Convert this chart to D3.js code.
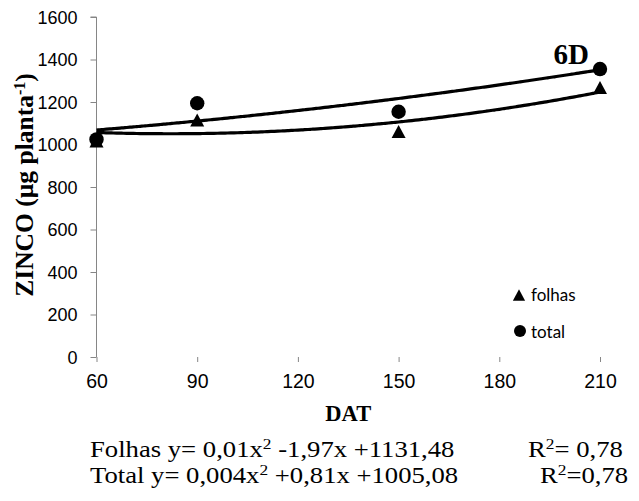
<!DOCTYPE html>
<html>
<head>
<meta charset="utf-8">
<script src="https://cdn.jsdelivr.net/npm/d3@7/dist/d3.min.js"></script>
<style>
  html, body { margin: 0; padding: 0; background: #fff; }
  svg { display: block; }
</style>
</head>
<body>
<svg id="chart" width="639" height="501"></svg>
<script>
// Days after transplanting (DAT)
const days = [60, 90, 150, 210];
// Zinc accumulation (µg planta-1)
const folhas = [1016, 1115, 1061, 1268];
const total  = [1024, 1194, 1154, 1355];

// Quadratic trend coefficients [a, b, c] for y = a·x² + b·x + c
const folhasFit = [0.012, -1.97, 1131.48];
const totalFit  = [0.004, 0.81, 1005.08];

const xTicks = [60, 90, 120, 150, 180, 210];
const yTicks = [0, 200, 400, 600, 800, 1000, 1200, 1400, 1600];

const svg = d3.select("#chart");
const axisColor = "#868686";
const serif = "'Liberation Serif', 'Times New Roman', serif";

const x = d3.scaleLinear().domain([60, 210]).range([96.5, 600]);
const y = d3.scaleLinear().domain([0, 1600]).range([357, 17]);

// Axes
const yAxis = d3.axisLeft(y).tickValues(yTicks).tickSize(6).tickPadding(13).tickFormat(d3.format("d"));
const xAxis = d3.axisBottom(x).tickValues(xTicks).tickSize(5).tickPadding(12).tickFormat(d3.format("d"));

const gy = svg.append("g").attr("transform", `translate(${x(60)},0)`).call(yAxis);
const gx = svg.append("g").attr("transform", `translate(0,${y(0)})`).call(xAxis);

[gx, gy].forEach(g => {
  g.select(".domain").attr("stroke", axisColor).attr("stroke-width", 1);
  g.selectAll(".tick line").attr("stroke", axisColor);
  g.selectAll(".tick text")
    .attr("fill", "#000")
    .style("font-family", "'Liberation Sans', Arial, sans-serif");
});
gy.selectAll(".tick text").style("font-size", "18px").attr("dy", "0.36em");
gx.selectAll(".tick text").style("font-size", "19.5px");
gy.select(".domain").attr("d", `M-6,${y(1600)}H0V${y(0)}`);
gx.select(".domain").attr("d", `M${x(60)},${y(0)}H${x(210)}V${y(0) + 5}`);

// Markers: triangle centred on its bounding box, and circles
const triBox = {
  draw(ctx, size) {
    const w = Math.sqrt(size);
    const h = w * 0.92;
    ctx.moveTo(0, -h / 2);
    ctx.lineTo(w / 2, h / 2);
    ctx.lineTo(-w / 2, h / 2);
    ctx.closePath();
  }
};
const triPath = d3.symbol().type(triBox).size(196)();
const circPath = d3.symbol().type(d3.symbolCircle).size(Math.PI * 7.2 * 7.2)();

svg.append("g").selectAll("path")
  .data(days.map((d, i) => [d, folhas[i]]))
  .join("path")
  .attr("d", triPath)
  .attr("transform", d => `translate(${x(d[0])},${y(d[1])})`)
  .attr("fill", "#000");

svg.append("g").selectAll("path")
  .data(days.map((d, i) => [d, total[i]]))
  .join("path")
  .attr("d", circPath)
  .attr("transform", d => `translate(${x(d[0])},${y(d[1])})`)
  .attr("fill", "#000");

// Trend curves
const quad = (k, t) => k[0] * t * t + k[1] * t + k[2];
const span = d3.range(60, 210.01, 1);
const line = d3.line().x(d => x(d[0])).y(d => y(d[1])).curve(d3.curveMonotoneX);

[folhasFit, totalFit].forEach(k => {
  svg.append("path")
    .datum(span.map(t => [t, quad(k, t)]))
    .attr("d", line)
    .attr("fill", "none")
    .attr("stroke", "#000")
    .attr("stroke-width", 3.2);
});

// Legend
const legend = svg.append("g").style("font-family", "Lato, 'Open Sans', sans-serif").style("font-size", "17px");
legend.append("path").attr("d", d3.symbol().type(triBox).size(150)()).attr("transform", "translate(519,295)");
legend.append("text").attr("x", 531).attr("y", 301).text("folhas");
legend.append("path").attr("d", d3.symbol().type(d3.symbolCircle).size(Math.PI * 36)()).attr("transform", "translate(520,331)");
legend.append("text").attr("x", 531).attr("y", 337.5).text("total");

// Panel label
svg.append("text")
  .attr("x", 589).attr("y", 64)
  .attr("text-anchor", "end")
  .style("font-family", serif)
  .style("font-weight", "bold")
  .style("font-size", "29px")
  .text("6D");

// Axis titles
svg.append("text")
  .attr("x", (x(60) + x(210)) / 2).attr("y", 421)
  .attr("text-anchor", "middle")
  .style("font-family", serif)
  .style("font-weight", "bold")
  .style("font-size", "22.5px")
  .text("DAT");

const yt = svg.append("text")
  .attr("transform", `translate(33,${(y(0) + y(1600)) / 2 - 2}) rotate(-90)`)
  .attr("text-anchor", "middle")
  .style("font-family", serif)
  .style("font-weight", "bold")
  .style("font-size", "25.5px");
yt.append("tspan").text("ZINCO (µg planta");
yt.append("tspan").attr("baseline-shift", "super").style("font-size", "16px").text("-1");
yt.append("tspan").text(")");

// Regression equations (set slightly wide)
const eq = svg.append("g")
  .style("font-family", serif)
  .style("font-size", "23px");

function eqText(px, py, parts) {
  const el = eq.append("text").attr("transform", `translate(${px},${py}) scale(1.16,1)`);
  parts.forEach(p => {
    const t = el.append("tspan").text(p[0]);
    if (p[1]) t.attr("baseline-shift", "super").style("font-size", "15px");
  });
}
eqText(90, 457, [["Folhas y= 0,01x"], ["2", true], [" -1,97x +1131,48"]]);
eqText(528, 457, [["R"], ["2", true], ["= 0,78"]]);
eqText(90, 483, [["Total y= 0,004x"], ["2", true], [" +0,81x +1005,08"]]);
eqText(540, 483, [["R"], ["2", true], ["=0,78"]]);
</script>
</body>
</html>
